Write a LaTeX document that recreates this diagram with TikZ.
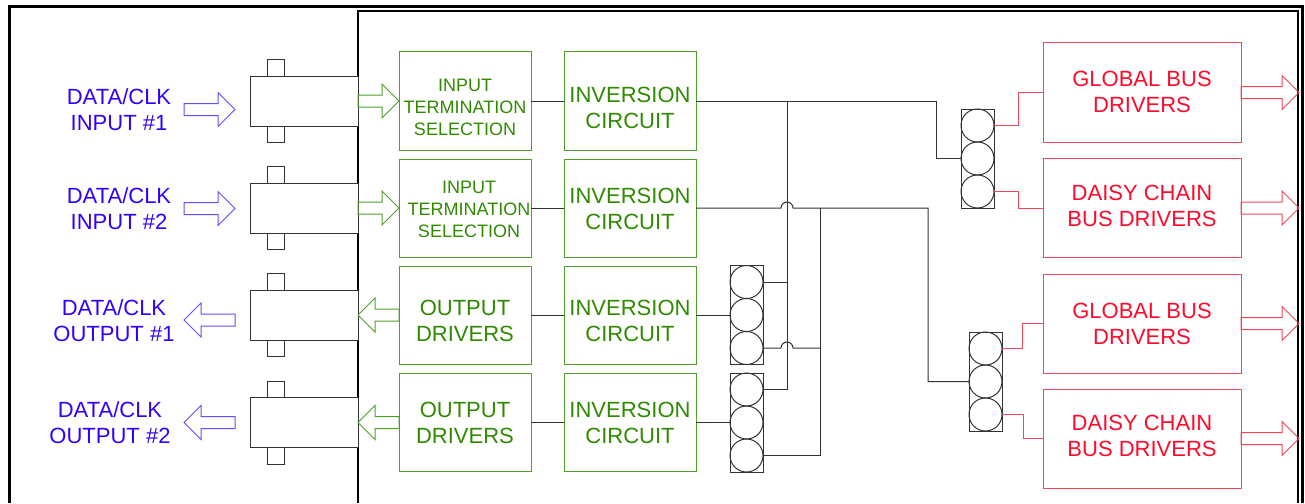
\documentclass[tikz,border=0pt]{standalone}
\usepackage{fontspec}
\setmainfont{Liberation Sans}
\usetikzlibrary{shapes.arrows}

\definecolor{linegreen}{HTML}{4FA02A}
\definecolor{textgreen}{HTML}{2F8A00}
\definecolor{lineblue}{HTML}{5F4FFF}
\definecolor{textblue}{HTML}{3300FF}
\definecolor{linered}{HTML}{F2475A}
\definecolor{textred}{HTML}{FF0A2A}
\definecolor{wiregray}{HTML}{333333}

\tikzset{
	bigtext/.style={font=\fontsize{22}{26}\selectfont,align=center},
	smalltext/.style={font=\fontsize{18}{22}\selectfont,align=center},
	greenbox/.style={draw=linegreen,line width=1pt,minimum width=132pt,minimum height=98pt,inner sep=0pt,outer sep=0pt},
	redbox/.style={draw=linered,line width=1pt,minimum width=198pt,minimum height=99pt,inner sep=0pt,outer sep=0pt},
	conn/.style={draw=wiregray,fill=white,line width=1pt,minimum width=108pt,minimum height=50pt,inner sep=0pt,outer sep=0pt},
	conntab/.style={draw=wiregray,line width=1pt,minimum width=17pt,minimum height=16.5pt,inner sep=0pt,outer sep=0pt},
	stackbox/.style={draw=wiregray,line width=1pt,minimum width=33pt,minimum height=99pt,inner sep=0pt,outer sep=0pt},
	pin/.style={draw=wiregray,circle,line width=1pt,minimum size=33pt,inner sep=0pt,outer sep=0pt},
	blockarrow/.style={single arrow,anchor=tail,line width=1pt,minimum height=#1,minimum width=33pt,
		single arrow head extend=11pt,single arrow tip angle=90,inner sep=5.5pt,outer sep=0pt},
	wire/.style={draw=wiregray,line width=1pt},
	redwire/.style={draw=linered,line width=1pt},
	frame/.style={draw=black,line width=#1},
}

\begin{document}
\begin{tikzpicture}[x=1pt,y=-1pt]
	\useasboundingbox (0,0) rectangle (1305,503);
	\draw[frame=3pt] (9,503) -- (9,7) -- (1302,7) -- (1302,503);
	\draw[frame=1.5pt] (358,503) -- (358,11) -- (1298,11) -- (1298,503);

	% connectors on the panel
	\foreach \name/\y in {j1/101,j2/208,j3/315,j4/422.5} {
		\node[conn] (\name) at (304,\y) {};
		\node[conntab] (\name t) at (275.5,\y-33.25) {};
		\node[conntab] (\name b) at (275.5,\y+33.25) {};
	}

	\node[bigtext,text=textblue] (lbl1) at (119,110) {DATA/CLK\\INPUT \#1};
	\node[bigtext,text=textblue] (lbl2) at (119,209) {DATA/CLK\\INPUT \#2};
	\node[bigtext,text=textblue] (lbl3) at (114,321) {DATA/CLK\\OUTPUT \#1};
	\node[bigtext,text=textblue] (lbl4) at (110,423) {DATA/CLK\\OUTPUT \#2};

	\node[blockarrow=51pt,draw=lineblue] (ba1) at (184,109.5) {};
	\node[blockarrow=51pt,draw=lineblue] (ba2) at (184,208.5) {};
	\node[blockarrow=51pt,draw=lineblue,shape border rotate=180] (ba3) at (235,320) {};
	\node[blockarrow=51pt,draw=lineblue,shape border rotate=180] (ba4) at (235,422.5) {};

	% green column
	\node[greenbox,label={[smalltext,text=textgreen,yshift=-6pt]center:INPUT\\TERMINATION\\SELECTION}] (sel1) at (465,101) {};
	\node[greenbox,label={[smalltext,text=textgreen,yshift=-1pt,xshift=4pt]center:INPUT\\TERMINATION\\SELECTION}] (sel2) at (465,208) {};
	\node[greenbox,label={[bigtext,text=textgreen,yshift=-5.5pt]center:OUTPUT\\DRIVERS}] (drv1) at (465,315) {};
	\node[greenbox,label={[bigtext,text=textgreen,yshift=-0.5pt]center:OUTPUT\\DRIVERS}] (drv2) at (465,422.5) {};
	\node[greenbox,label={[bigtext,text=textgreen,yshift=-7pt]center:INVERSION\\CIRCUIT}] (inv1) at (630,101) {};
	\node[greenbox,label={[bigtext,text=textgreen,yshift=-1pt]center:INVERSION\\CIRCUIT}] (inv2) at (630,208) {};
	\node[greenbox,label={[bigtext,text=textgreen,yshift=-6pt]center:INVERSION\\CIRCUIT}] (inv3) at (630,315) {};
	\node[greenbox,label={[bigtext,text=textgreen,yshift=-0.5pt]center:INVERSION\\CIRCUIT}] (inv4) at (630,422.5) {};

	\node[blockarrow=41pt,draw=linegreen] (ga1) at (358,101) {};
	\node[blockarrow=41pt,draw=linegreen] (ga2) at (358,208) {};
	\node[blockarrow=41pt,draw=linegreen,shape border rotate=180] (ga3) at (399,315) {};
	\node[blockarrow=41pt,draw=linegreen,shape border rotate=180] (ga4) at (399,422.5) {};

	% red column
	\node[redbox,label={[bigtext,text=textred,yshift=0.5pt]center:GLOBAL BUS\\DRIVERS}] (gb1) at (1142,92.5) {};
	\node[redbox,label={[bigtext,text=textred,yshift=2pt]center:DAISY CHAIN\\BUS DRIVERS}] (dc1) at (1142,208) {};
	\node[redbox,label={[bigtext,text=textred,yshift=-0.5pt]center:GLOBAL BUS\\DRIVERS}] (gb2) at (1142,323.5) {};
	\node[redbox,label={[bigtext,text=textred,yshift=2.5pt]center:DAISY CHAIN\\BUS DRIVERS}] (dc2) at (1142,438.5) {};

	\node[blockarrow=58pt,draw=linered] (ra1) at (1241,92.5) {};
	\node[blockarrow=58pt,draw=linered] (ra2) at (1241,208) {};
	\node[blockarrow=58pt,draw=linered] (ra3) at (1241,323.5) {};
	\node[blockarrow=58pt,draw=linered] (ra4) at (1241,438.5) {};

	% circle stacks
	\foreach \name/\x/\y in {sa/977.5/158.5,sb/985.5/381.5,sc/746.5/315,sd/746.5/422.5} {
		\node[stackbox] (\name) at (\x,\y) {};
		\node[pin] (\name1) at (\x,\y-33) {};
		\node[pin] (\name2) at (\x,\y) {};
		\node[pin] (\name3) at (\x,\y+33) {};
	}

	\coordinate (busl) at (787,101);
	\coordinate (busr) at (820,208);
	\coordinate (busa) at (936,101);
	\coordinate (busb) at (928,208);

	\draw[wire] (sel1.east) -- (inv1.west);
	\draw[wire] (sel2.east) -- (inv2.west);
	\draw[wire] (drv1.east) -- (inv3.west);
	\draw[wire] (drv2.east) -- (inv4.west);
	\draw[wire] (inv3.east) -- (sc2.west);
	\draw[wire] (inv4.east) -- (sd2.west);

	\draw[wire] (inv1.east) -- (busa) -- (busa |- sa2.west) -- (sa2.west);
	\draw[wire] (busl) -- (busl |- sd1.east) -- (sd1.east);
	\draw[wire] (sc1.east) -- (sc1.east -| busl);
	\draw[wire] (inv2.east) -- (781,208) arc[start angle=180,end angle=360,radius=6] -- (busb) -- (busb |- sb2.west) -- (sb2.west);
	\draw[wire] (busr) -- (busr |- sd3.east) -- (sd3.east);
	\draw[wire] (sc3.east) -- (781,348) arc[start angle=180,end angle=360,radius=6] -- (sc3.east -| busr);

	\draw[redwire] (sa1.east) -- ++(24,0) |- (gb1.west);
	\draw[redwire] (sa3.east) -- ++(24,0) |- (dc1.west);
	\draw[redwire] (sb1.east) -- ++(20,0) |- (gb2.west);
	\draw[redwire] (sb3.east) -- ++(21,0) |- (dc2.west);
\end{tikzpicture}
\end{document}
